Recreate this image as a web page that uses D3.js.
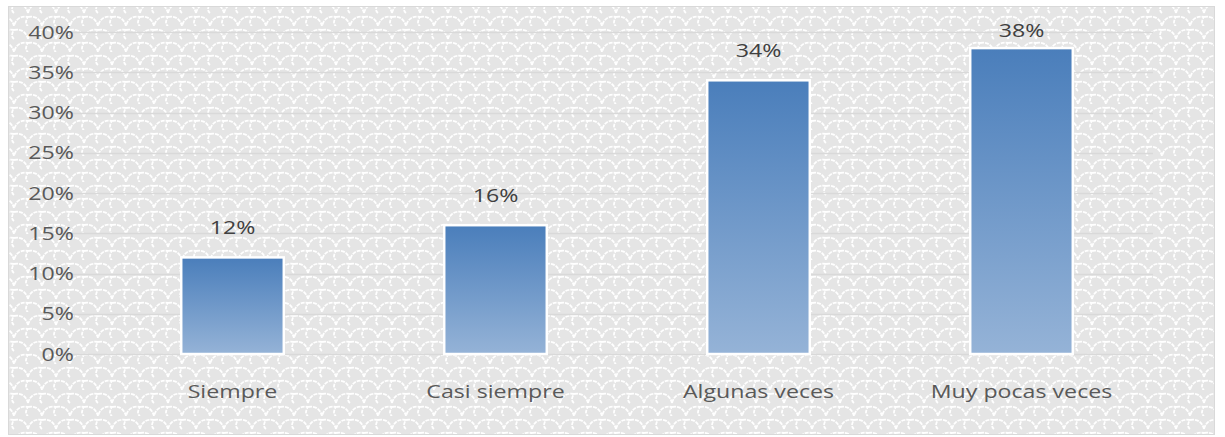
<!DOCTYPE html>
<html lang="es">
<head>
  <meta charset="utf-8" />
  <script src="https://d3js.org/d3.v7.min.js"></script>
  <style>
    body { margin: 0; background: #fff; }
    text { font-family: "Open Sans", sans-serif; }
  </style>
</head>
<body>
<svg width="1225" height="437"></svg>
<script>
// data
var categories = ["Siempre", "Casi siempre", "Algunas veces", "Muy pocas veces"];
var values = [0.12, 0.16, 0.34, 0.38];
var yTicks = [0, 0.05, 0.10, 0.15, 0.20, 0.25, 0.30, 0.35, 0.40];

var width = 1225, height = 437;
var margin = {top: 32, right: 72, bottom: 83, left: 101};
var fontSize = "19px";
var stretch = "scale(1.22,1)"; // source picture is stretched sideways

var svg = d3.select("svg");
var defs = svg.append("defs");

// scale-like background texture
var pat = defs.append("pattern")
  .attr("id", "scales")
  .attr("patternUnits", "userSpaceOnUse")
  .attr("width", 28)
  .attr("height", 26);
pat.append("rect").attr("width", 28).attr("height", 26).attr("fill", "#e5e5e5");
var arcs = ["M0,13 Q3,2 14,4 Q10,10 14,13 M14,4 Q25,2 28,13",
            "M-14,26 Q-11,15 0,17 Q-4,23 0,26 M0,17 Q11,15 14,26 Q17,15 28,17 Q24,23 28,26 M28,17 Q39,15 42,26"];
pat.selectAll("path").data(arcs).enter().append("path")
  .attr("d", function(d){ return d; })
  .attr("fill", "none")
  .attr("stroke", "#ffffff")
  .attr("stroke-width", 1.8)
  .attr("stroke-dasharray", "4,1");

var grad = defs.append("linearGradient")
  .attr("id", "barGrad")
  .attr("x1", 0).attr("y1", 0).attr("x2", 0).attr("y2", 1);
grad.append("stop").attr("offset", "0%").attr("stop-color", "#4a7ebb");
grad.append("stop").attr("offset", "100%").attr("stop-color", "#95b3d7");

// chart area
svg.append("rect")
  .attr("x", 8.5).attr("y", 6.5)
  .attr("width", 1206).attr("height", 428)
  .attr("fill", "url(#scales)")
  .attr("stroke", "#d9d9d9");

var x = d3.scaleBand()
  .domain(categories)
  .range([margin.left, width - margin.right])
  .paddingInner(0.61)
  .paddingOuter(0.305);

var y = d3.scaleLinear()
  .domain([0, 0.4])
  .range([height - margin.bottom, margin.top]);

// gridlines
svg.append("g")
  .selectAll("line")
  .data(yTicks)
  .enter().append("line")
  .attr("x1", 62).attr("x2", width - margin.right)
  .attr("y1", function(d){ return Math.round(y(d)) + 0.5; })
  .attr("y2", function(d){ return Math.round(y(d)) + 0.5; })
  .attr("stroke", "#d9d9d9")
  .attr("stroke-width", 1.5);

// y axis labels
var yAxis = d3.axisLeft(y)
  .tickValues(yTicks)
  .tickFormat(d3.format(".0%"))
  .tickSize(0)
  .tickPadding(0);
var ya = svg.append("g")
  .attr("transform", "translate(74,0)")
  .call(yAxis);
ya.select(".domain").remove();
ya.selectAll("text")
  .attr("x", null)
  .attr("transform", stretch)
  .attr("fill", "#595959")
  .style("font-size", fontSize);

// bars
svg.append("g")
  .selectAll("rect")
  .data(values)
  .enter().append("rect")
  .attr("x", function(d, i){ return x(categories[i]); })
  .attr("y", function(d){ return y(d); })
  .attr("width", x.bandwidth())
  .attr("height", function(d){ return y(0) - y(d); })
  .attr("fill", "url(#barGrad)")
  .attr("stroke", "#ffffff")
  .attr("stroke-width", 2.5);

// value labels (top one kept inside the plot)
svg.append("g")
  .selectAll("text")
  .data(values)
  .enter().append("text")
  .attr("transform", function(d, i){
    var cx = x(categories[i]) + x.bandwidth() / 2;
    var cy = Math.max(y(d) - 23, 37);
    return "translate(" + cx + "," + cy + ") " + stretch;
  })
  .attr("text-anchor", "middle")
  .attr("fill", "#404040")
  .style("font-size", fontSize)
  .text(d3.format(".0%"));

// x axis labels
var xAxis = d3.axisBottom(x).tickSize(0).tickPadding(0);
var xa = svg.append("g")
  .attr("transform", "translate(0," + (y(0) + 30) + ")")
  .call(xAxis);
xa.select(".domain").remove();
xa.selectAll("text")
  .attr("transform", stretch)
  .attr("fill", "#595959")
  .style("font-size", fontSize);
</script>
</body>
</html>
